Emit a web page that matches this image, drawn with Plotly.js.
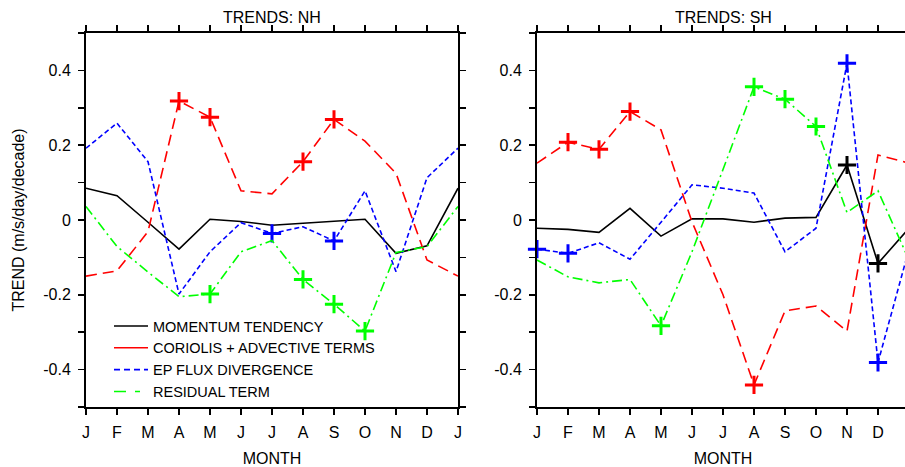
<!DOCTYPE html>
<html>
<head>
<meta charset="utf-8">
<script src="https://cdn.plot.ly/plotly-3.0.1.min.js"></script>
<style>
html, body { margin: 0; padding: 0; overflow: hidden; background: #fff; }
#chart { width: 912px; height: 467px; }
</style>
</head>
<body>
<div id="chart"></div>
<script>
// ---- data ----
const monthLabels = ['J','F','M','A','M','J','J','A','S','O','N','D','J'];

const seriesNames = ['MOMENTUM TENDENCY', 'CORIOLIS + ADVECTIVE TERMS', 'EP FLUX DIVERGENCE', 'RESIDUAL TERM'];

// Northern Hemisphere (m/s/day/decade)
const nhMomentum = [0.085, 0.065, -0.006, -0.078, 0.002, -0.004, -0.014, -0.009, -0.004, 0.002, -0.089, -0.069, 0.085];
const nhCoriolis = [-0.150, -0.136, -0.031, 0.318, 0.275, 0.078, 0.070, 0.156, 0.269, 0.211, 0.125, -0.107, -0.150];
const nhEPFlux   = [0.192, 0.259, 0.156, -0.198, -0.085, -0.007, -0.036, -0.018, -0.056, 0.078, -0.138, 0.113, 0.192];
const nhResidual = [0.036, -0.071, -0.139, -0.205, -0.198, -0.085, -0.055, -0.159, -0.225, -0.297, -0.087, -0.071, 0.036];

// Southern Hemisphere
const shMomentum = [-0.022, -0.025, -0.033, 0.031, -0.043, 0.003, 0.003, -0.006, 0.005, 0.007, 0.147, -0.116, -0.022];
const shCoriolis = [0.152, 0.208, 0.189, 0.290, 0.241, -0.005, -0.200, -0.441, -0.243, -0.230, -0.297, 0.174, 0.152];
const shEPFlux   = [-0.078, -0.089, -0.061, -0.105, -0.006, 0.094, 0.085, 0.072, -0.085, -0.022, 0.419, -0.381, -0.078];
const shResidual = [-0.107, -0.152, -0.168, -0.159, -0.283, -0.085, 0.135, 0.356, 0.323, 0.250, 0.020, 0.078, -0.107];

// significant months (month index) marked with "+"
const nhMomentumSig = [];
const nhCoriolisSig = [3, 4, 7, 8];
const nhEPFluxSig   = [6, 8];
const nhResidualSig = [4, 7, 8, 9];
const shMomentumSig = [10, 11];
const shCoriolisSig = [1, 2, 3, 7];
const shEPFluxSig   = [0, 1, 10, 11];
const shResidualSig = [4, 7, 8, 9];

const yTickVals = [-0.5, -0.4, -0.3, -0.2, -0.1, 0, 0.1, 0.2, 0.3, 0.4, 0.5];
const yTickText = ['', '-0.4', '', '-0.2', '', '0', '', '0.2', '', '0.4', ''];

// ---- styles ----
const FONT = 'Liberation Sans, Arial, Helvetica, sans-serif';
const colors = ['#000000', '#ff0000', '#0000ff', '#00ff00'];
const dashes = ['solid', '11px,6px', '5px,3px', '10px,4px,2px,4px'];
const legendDashes = ['solid', 'solid', '6px,4px', '12px,9px,5px'];

const xIdx = monthLabels.map((_, i) => i);

const traces = [];
function addPanel(series, sigs, xa, ya) {
  series.forEach((ys, k) => {
    traces.push({
      x: xIdx, y: ys, xaxis: xa, yaxis: ya, mode: 'lines', type: 'scatter',
      showlegend: false, hoverinfo: 'skip',
      line: { color: colors[k], width: 1.6, dash: dashes[k] }
    });
    const sig = sigs[k];
    if (sig.length) {
      traces.push({
        x: sig.map(i => xIdx[i]), y: sig.map(i => ys[i]),
        xaxis: xa, yaxis: ya, mode: 'markers', type: 'scatter',
        showlegend: false, hoverinfo: 'skip', cliponaxis: false,
        marker: { symbol: 'cross-thin', size: 13, color: colors[k], line: { color: colors[k], width: 3 } }
      });
    }
  });
}
addPanel([nhMomentum, nhCoriolis, nhEPFlux, nhResidual], [nhMomentumSig, nhCoriolisSig, nhEPFluxSig, nhResidualSig], 'x', 'y');
addPanel([shMomentum, shCoriolis, shEPFlux, shResidual], [shMomentumSig, shCoriolisSig, shEPFluxSig, shResidualSig], 'x2', 'y2');

// legend entries
seriesNames.forEach((nm, k) => {
  traces.push({
    x: [null], y: [null], xaxis: 'x', yaxis: 'y', mode: 'lines', type: 'scatter',
    name: nm, showlegend: true, hoverinfo: 'skip',
    line: { color: colors[k], width: 1.6, dash: legendDashes[k] }
  });
});

const W = 912, H = 467;
const yDomain = [1 - 407 / H, 1 - 33 / H];

function xAxis(dom, n, anchor) {
  return {
    domain: dom, anchor: anchor, range: [0, 12],
    tickvals: xIdx.slice(0, n), ticktext: monthLabels.slice(0, n),
    ticks: 'outside', ticklen: 6, tickwidth: 1.5, tickcolor: '#000',
    showline: true, linewidth: 2, linecolor: '#000', mirror: 'allticks',
    showgrid: false, zeroline: false, ticklabelstandoff: 4,
    tickfont: { family: FONT, size: 16, color: '#000' },
    title: { text: 'MONTH', standoff: 17, font: { family: FONT, size: 16, color: '#000' } },
    fixedrange: true
  };
}
function yAxis(anchor, withTitle) {
  const a = {
    domain: yDomain, anchor: anchor, range: [-0.5, 0.5],
    tickvals: yTickVals, ticktext: yTickText,
    ticks: 'outside', ticklen: 6, tickwidth: 1.5, tickcolor: '#000',
    showline: true, linewidth: 2, linecolor: '#000', mirror: 'allticks',
    showgrid: false, zeroline: false, ticklabelstandoff: 4,
    tickfont: { family: FONT, size: 16, color: '#000' },
    fixedrange: true
  };
  if (withTitle) a.title = { text: 'TREND (m/s/day/decade)', standoff: 15, font: { family: FONT, size: 16, color: '#000' } };
  return a;
}

const layout = {
  width: W, height: H,
  margin: { l: 0, r: 0, t: 0, b: 0, autoexpand: false },
  paper_bgcolor: '#fff', plot_bgcolor: '#fff',
  font: { family: FONT, color: '#000' },
  xaxis: xAxis([86 / W, 458 / W], 13, 'y'),
  yaxis: yAxis('x', true),
  xaxis2: xAxis([537 / W, 909 / W], 12, 'y2'),
  yaxis2: yAxis('x2', false),
  showlegend: true,
  legend: {
    x: 109 / W, y: 1 - 310 / H, xanchor: 'left', yanchor: 'top',
    bgcolor: 'rgba(0,0,0,0)', borderwidth: 0, itemwidth: 34,
    font: { family: FONT, size: 14.5, color: '#000' },
    tracegroupgap: 0
  },
  annotations: [
    { text: 'TRENDS: NH', x: (86 + 458) / 2 / W, y: 1 - 18 / H, xref: 'paper', yref: 'paper',
      xanchor: 'center', yanchor: 'middle', showarrow: false, font: { family: FONT, size: 16, color: '#000' } },
    { text: 'TRENDS: SH', x: (537 + 909) / 2 / W, y: 1 - 18 / H, xref: 'paper', yref: 'paper',
      xanchor: 'center', yanchor: 'middle', showarrow: false, font: { family: FONT, size: 16, color: '#000' } }
  ]
};

Plotly.newPlot('chart', traces, layout, { displayModeBar: false, staticPlot: true });
</script>
</body>
</html>
